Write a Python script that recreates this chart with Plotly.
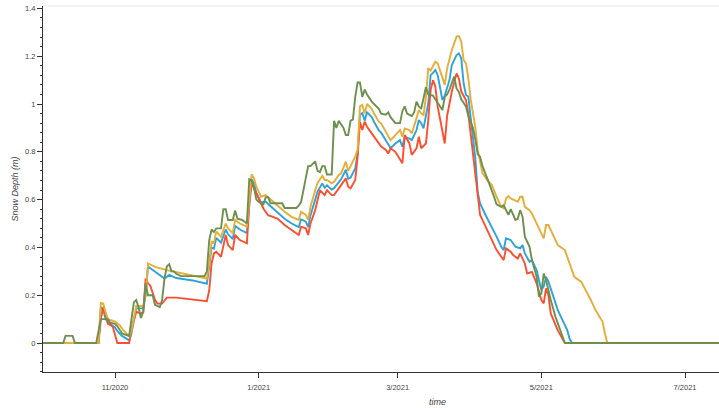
import plotly.graph_objects as go

# ---------------- data ----------------
blue_dates = [
    "2020-10-01", "2020-10-25", "2020-10-26", "2020-10-27", "2020-10-28", "2020-10-30",
    "2020-11-01", "2020-11-02", "2020-11-04", "2020-11-06", "2020-11-07", "2020-11-08",
    "2020-11-10", "2020-11-13", "2020-11-14", "2020-11-15", "2020-11-18", "2020-11-22",
    "2020-11-24", "2020-11-27", "2020-12-04", "2020-12-10", "2020-12-11", "2020-12-12",
    "2020-12-13", "2020-12-14", "2020-12-16", "2020-12-18", "2020-12-19", "2020-12-21",
    "2020-12-22", "2020-12-24", "2020-12-27", "2020-12-28", "2020-12-29", "2020-12-30",
    "2020-12-31", "2021-01-02", "2021-01-04", "2021-01-05", "2021-01-09", "2021-01-12",
    "2021-01-15", "2021-01-18", "2021-01-19", "2021-01-21", "2021-01-22", "2021-01-23",
    "2021-01-25", "2021-01-26", "2021-01-28", "2021-01-29", "2021-01-30", "2021-02-01",
    "2021-02-02", "2021-02-04", "2021-02-05", "2021-02-07", "2021-02-08", "2021-02-09",
    "2021-02-11", "2021-02-12", "2021-02-13", "2021-02-14", "2021-02-15", "2021-02-16",
    "2021-02-18", "2021-02-19", "2021-02-21", "2021-02-22", "2021-02-24", "2021-02-25",
    "2021-02-26", "2021-02-28", "2021-03-02", "2021-03-03", "2021-03-04", "2021-03-06",
    "2021-03-07", "2021-03-09", "2021-03-10", "2021-03-11", "2021-03-12", "2021-03-14",
    "2021-03-15", "2021-03-16", "2021-03-17", "2021-03-18", "2021-03-19", "2021-03-20",
    "2021-03-21", "2021-03-22", "2021-03-23", "2021-03-24", "2021-03-26", "2021-03-27",
    "2021-03-28", "2021-03-29", "2021-03-30", "2021-03-31", "2021-04-01", "2021-04-02",
    "2021-04-03", "2021-04-04", "2021-04-05", "2021-04-07", "2021-04-10", "2021-04-12",
    "2021-04-14", "2021-04-15", "2021-04-16", "2021-04-18", "2021-04-20", "2021-04-22",
    "2021-04-23", "2021-04-24", "2021-04-26", "2021-04-27", "2021-04-29", "2021-04-30",
    "2021-05-01", "2021-05-02", "2021-05-03", "2021-05-04", "2021-05-06", "2021-05-08",
    "2021-05-10", "2021-05-12", "2021-05-13", "2021-05-14", "2021-07-31",
]
blue_depth = [
    0, 0, 0.15, 0.14, 0.10, 0.08,
    0.065, 0.05, 0.03, 0.02, 0.012, 0.04,
    0.145, 0.145, 0.20, 0.32, 0.30, 0.27,
    0.285, 0.272, 0.262, 0.248, 0.32, 0.40,
    0.395, 0.44, 0.42, 0.475, 0.455, 0.435,
    0.49, 0.475, 0.46, 0.56, 0.685, 0.668,
    0.628, 0.588, 0.592, 0.582, 0.545, 0.52,
    0.50, 0.485, 0.518, 0.508, 0.485, 0.535,
    0.60, 0.635, 0.668, 0.65, 0.66, 0.642,
    0.648, 0.675, 0.685, 0.725, 0.688, 0.692,
    0.73, 0.792, 0.955, 0.962, 0.93, 0.965,
    0.945, 0.925, 0.89, 0.88, 0.85, 0.835,
    0.815, 0.835, 0.849, 0.821, 0.863, 0.855,
    0.849, 0.891, 0.933, 0.92, 0.898, 1.003,
    1.121, 1.13, 1.142, 1.121, 1.066, 1.017,
    1.035, 1.07, 1.10, 1.163, 1.205, 1.212,
    1.191, 1.087, 1.038, 1.031, 0.95, 0.87,
    0.77, 0.63, 0.584, 0.542, 0.487, 0.445,
    0.403, 0.389, 0.438, 0.431, 0.403, 0.396,
    0.41, 0.375, 0.34, 0.347, 0.305, 0.257,
    0.222, 0.236, 0.277, 0.257, 0.194, 0.138,
    0.096, 0.054, 0.018, 0, 0,
]

red_dates = [
    "2020-10-01", "2020-10-25", "2020-10-26", "2020-10-27", "2020-10-28", "2020-10-29",
    "2020-10-31", "2020-11-01", "2020-11-02", "2020-11-07", "2020-11-08", "2020-11-10",
    "2020-11-12", "2020-11-13", "2020-11-14", "2020-11-15", "2020-11-16", "2020-11-18",
    "2020-11-19", "2020-11-21", "2020-11-23", "2020-11-27", "2020-12-04", "2020-12-10",
    "2020-12-11", "2020-12-12", "2020-12-13", "2020-12-14", "2020-12-16", "2020-12-18",
    "2020-12-19", "2020-12-21", "2020-12-22", "2020-12-24", "2020-12-27", "2020-12-28",
    "2020-12-29", "2020-12-30", "2021-01-01", "2021-01-03", "2021-01-05", "2021-01-09",
    "2021-01-12", "2021-01-15", "2021-01-18", "2021-01-19", "2021-01-21", "2021-01-22",
    "2021-01-23", "2021-01-25", "2021-01-26", "2021-01-27", "2021-01-29", "2021-01-30",
    "2021-02-01", "2021-02-02", "2021-02-04", "2021-02-05", "2021-02-07", "2021-02-08",
    "2021-02-09", "2021-02-11", "2021-02-12", "2021-02-13", "2021-02-14", "2021-02-15",
    "2021-02-16", "2021-02-18", "2021-02-20", "2021-02-22", "2021-02-24", "2021-02-25",
    "2021-02-26", "2021-02-28", "2021-03-03", "2021-03-04", "2021-03-06", "2021-03-07",
    "2021-03-09", "2021-03-10", "2021-03-11", "2021-03-13", "2021-03-14", "2021-03-15",
    "2021-03-16", "2021-03-17", "2021-03-18", "2021-03-20", "2021-03-21", "2021-03-22",
    "2021-03-24", "2021-03-26", "2021-03-27", "2021-03-28", "2021-03-30", "2021-03-31",
    "2021-04-01", "2021-04-02", "2021-04-03", "2021-04-04", "2021-04-05", "2021-04-06",
    "2021-04-08", "2021-04-10", "2021-04-12", "2021-04-14", "2021-04-15", "2021-04-16",
    "2021-04-18", "2021-04-19", "2021-04-21", "2021-04-22", "2021-04-24", "2021-04-25",
    "2021-04-27", "2021-04-29", "2021-04-30", "2021-05-01", "2021-05-02", "2021-05-03",
    "2021-05-04", "2021-05-05", "2021-05-08", "2021-05-10", "2021-05-11", "2021-07-31",
]
red_depth = [
    0, 0, 0.10, 0.15, 0.12, 0.08,
    0.07, 0.04, 0, 0, 0.06, 0.13,
    0.125, 0.13, 0.27, 0.25, 0.24, 0.18,
    0.165, 0.165, 0.19, 0.19, 0.183, 0.175,
    0.22, 0.333, 0.375, 0.382, 0.361, 0.452,
    0.41, 0.389, 0.452, 0.431, 0.417, 0.584,
    0.668, 0.647, 0.598, 0.563, 0.535, 0.521,
    0.494, 0.473, 0.452, 0.487, 0.48, 0.452,
    0.50, 0.556, 0.598, 0.64, 0.619, 0.64,
    0.619, 0.619, 0.647, 0.661, 0.689, 0.654,
    0.647, 0.682, 0.78, 0.925, 0.891, 0.926,
    0.905, 0.877, 0.849, 0.822, 0.808, 0.793,
    0.815, 0.80, 0.752, 0.87, 0.835, 0.787,
    0.815, 0.863, 0.815, 0.835, 0.933, 1.059,
    1.10, 1.073, 0.989, 0.877, 0.835, 0.95,
    1.052, 1.128, 1.107, 1.052, 1.017, 0.96,
    0.87, 0.80, 0.71, 0.60, 0.536, 0.515,
    0.473, 0.431, 0.389, 0.361, 0.347, 0.396,
    0.382, 0.368, 0.354, 0.375, 0.333, 0.291,
    0.298, 0.25, 0.215, 0.18, 0.166, 0.229,
    0.20, 0.124, 0.053, 0.018, 0, 0,
]

yellow_dates = [
    "2020-10-01", "2020-10-25", "2020-10-26", "2020-10-27", "2020-10-28", "2020-10-29",
    "2020-11-01", "2020-11-03", "2020-11-04", "2020-11-06", "2020-11-07", "2020-11-08",
    "2020-11-10", "2020-11-13", "2020-11-14", "2020-11-15", "2020-11-18", "2020-11-23",
    "2020-11-28", "2020-12-04", "2020-12-10", "2020-12-11", "2020-12-12", "2020-12-13",
    "2020-12-14", "2020-12-16", "2020-12-18", "2020-12-19", "2020-12-21", "2020-12-22",
    "2020-12-24", "2020-12-27", "2020-12-28", "2020-12-29", "2020-12-30", "2020-12-31",
    "2021-01-02", "2021-01-04", "2021-01-05", "2021-01-09", "2021-01-12", "2021-01-15",
    "2021-01-18", "2021-01-19", "2021-01-21", "2021-01-22", "2021-01-23", "2021-01-25",
    "2021-01-26", "2021-01-28", "2021-01-29", "2021-01-30", "2021-02-01", "2021-02-02",
    "2021-02-04", "2021-02-05", "2021-02-07", "2021-02-08", "2021-02-09", "2021-02-11",
    "2021-02-12", "2021-02-13", "2021-02-14", "2021-02-15", "2021-02-16", "2021-02-18",
    "2021-02-19", "2021-02-21", "2021-02-22", "2021-02-24", "2021-02-25", "2021-02-26",
    "2021-02-28", "2021-03-02", "2021-03-03", "2021-03-04", "2021-03-06", "2021-03-07",
    "2021-03-09", "2021-03-10", "2021-03-11", "2021-03-12", "2021-03-13", "2021-03-14",
    "2021-03-15", "2021-03-17", "2021-03-18", "2021-03-19", "2021-03-20", "2021-03-21",
    "2021-03-22", "2021-03-23", "2021-03-24", "2021-03-26", "2021-03-27", "2021-03-28",
    "2021-03-29", "2021-03-30", "2021-03-31", "2021-04-01", "2021-04-03", "2021-04-04",
    "2021-04-05", "2021-04-06", "2021-04-08", "2021-04-10", "2021-04-12", "2021-04-14",
    "2021-04-15", "2021-04-16", "2021-04-17", "2021-04-18", "2021-04-21", "2021-04-22",
    "2021-04-23", "2021-04-24", "2021-04-26", "2021-04-27", "2021-04-30", "2021-05-02",
    "2021-05-03", "2021-05-04", "2021-05-06", "2021-05-08", "2021-05-11", "2021-05-13",
    "2021-05-15", "2021-05-18", "2021-05-20", "2021-05-22", "2021-05-24", "2021-05-27",
    "2021-05-28", "2021-05-29", "2021-07-31",
]
yellow_depth = [
    0, 0, 0.168, 0.165, 0.13, 0.10,
    0.09, 0.075, 0.06, 0.04, 0.028, 0.05,
    0.155, 0.155, 0.20, 0.333, 0.319, 0.305,
    0.294, 0.284, 0.27, 0.333, 0.424, 0.42,
    0.466, 0.445, 0.50, 0.48, 0.459, 0.515,
    0.50, 0.487, 0.584, 0.706, 0.689, 0.654,
    0.612, 0.619, 0.61, 0.573, 0.549, 0.528,
    0.515, 0.549, 0.536, 0.515, 0.57, 0.64,
    0.67, 0.70, 0.682, 0.682, 0.668, 0.675,
    0.703, 0.71, 0.759, 0.72, 0.738, 0.78,
    0.808, 0.99, 0.996, 0.96, 1.0, 0.98,
    0.96, 0.926, 0.919, 0.884, 0.87, 0.849,
    0.87, 0.891, 0.863, 0.898, 0.891, 0.877,
    0.94, 0.975, 0.961, 0.954, 1.031, 1.15,
    1.14, 1.177, 1.17, 1.142, 1.107, 1.08,
    1.149, 1.191, 1.226, 1.282, 1.284, 1.261,
    1.184, 1.17, 1.107, 1.02, 0.90, 0.808,
    0.752, 0.711, 0.682, 0.661, 0.612, 0.57,
    0.563, 0.605, 0.615, 0.605, 0.591, 0.612,
    0.612, 0.57, 0.556, 0.542, 0.48, 0.438,
    0.494, 0.494, 0.452, 0.41, 0.389, 0.333,
    0.277, 0.256, 0.22, 0.18, 0.138, 0.089,
    0.04, 0, 0,
]

green_dates = [
    "2020-10-01", "2020-10-10", "2020-10-11", "2020-10-14", "2020-10-15", "2020-10-24",
    "2020-10-26", "2020-10-29", "2020-10-30", "2020-11-01", "2020-11-02", "2020-11-04",
    "2020-11-07", "2020-11-08", "2020-11-09", "2020-11-10", "2020-11-11", "2020-11-12",
    "2020-11-13", "2020-11-14", "2020-11-15", "2020-11-17", "2020-11-18", "2020-11-20",
    "2020-11-21", "2020-11-22", "2020-11-23", "2020-11-24", "2020-11-25", "2020-11-26",
    "2020-11-27", "2020-11-29", "2020-12-09", "2020-12-10", "2020-12-11", "2020-12-12",
    "2020-12-13", "2020-12-14", "2020-12-16", "2020-12-17", "2020-12-18", "2020-12-19",
    "2020-12-21", "2020-12-22", "2020-12-23", "2020-12-25", "2020-12-27", "2020-12-28",
    "2020-12-29", "2020-12-30", "2020-12-31", "2021-01-01", "2021-01-03", "2021-01-04",
    "2021-01-05", "2021-01-06", "2021-01-11", "2021-01-12", "2021-01-17", "2021-01-18",
    "2021-01-19", "2021-01-20", "2021-01-22", "2021-01-23", "2021-01-25", "2021-01-26",
    "2021-01-27", "2021-01-28", "2021-01-29", "2021-01-30", "2021-02-01", "2021-02-02",
    "2021-02-03", "2021-02-04", "2021-02-06", "2021-02-07", "2021-02-08", "2021-02-09",
    "2021-02-10", "2021-02-11", "2021-02-12", "2021-02-13", "2021-02-14", "2021-02-15",
    "2021-02-16", "2021-02-18", "2021-02-19", "2021-02-21", "2021-02-22", "2021-02-24",
    "2021-02-25", "2021-02-26", "2021-02-28", "2021-03-02", "2021-03-03", "2021-03-04",
    "2021-03-05", "2021-03-07", "2021-03-08", "2021-03-09", "2021-03-10", "2021-03-11",
    "2021-03-13", "2021-03-14", "2021-03-16", "2021-03-17", "2021-03-18", "2021-03-20",
    "2021-03-21", "2021-03-22", "2021-03-23", "2021-03-25", "2021-03-26", "2021-03-27",
    "2021-03-28", "2021-03-30", "2021-03-31", "2021-04-02", "2021-04-03", "2021-04-04",
    "2021-04-05", "2021-04-06", "2021-04-08", "2021-04-10", "2021-04-11", "2021-04-12",
    "2021-04-14", "2021-04-15", "2021-04-16", "2021-04-17", "2021-04-18", "2021-04-20",
    "2021-04-21", "2021-04-22", "2021-04-23", "2021-04-24", "2021-04-26", "2021-04-27",
    "2021-04-29", "2021-04-30", "2021-05-01", "2021-05-02", "2021-05-03", "2021-05-05",
    "2021-05-07", "2021-05-09", "2021-05-11", "2021-07-31",
]
green_depth = [
    0, 0, 0.03, 0.03, 0, 0,
    0.10, 0.10, 0.085, 0.08, 0.07, 0.04,
    0.03, 0.10, 0.17, 0.18, 0.15, 0.105,
    0.13, 0.25, 0.20, 0.20, 0.16, 0.15,
    0.18, 0.27, 0.32, 0.33, 0.30, 0.30,
    0.29, 0.28, 0.28, 0.30, 0.43, 0.475,
    0.465, 0.48, 0.48, 0.56, 0.56, 0.515,
    0.515, 0.555, 0.52, 0.515, 0.50, 0.685,
    0.68, 0.65, 0.60, 0.59, 0.58, 0.61,
    0.61, 0.585, 0.585, 0.565, 0.565, 0.575,
    0.59, 0.64, 0.74, 0.74, 0.76, 0.72,
    0.715, 0.74, 0.74, 0.705, 0.705, 0.93,
    0.90, 0.93, 0.90, 0.87, 0.87, 0.93,
    0.935, 1.03, 1.09, 1.09, 1.03, 1.06,
    1.04, 1.01, 1.0, 0.98, 0.96, 0.955,
    0.965, 0.945, 0.92, 0.92, 0.97, 0.99,
    0.96, 0.95, 0.965, 1.01, 0.99, 0.98,
    1.07, 1.04, 1.035, 1.02, 1.0, 0.975,
    1.03, 1.04, 1.06, 1.115, 1.065, 1.05,
    1.02, 0.99, 0.95, 0.90, 0.85, 0.79,
    0.78, 0.74, 0.69, 0.64, 0.61, 0.58,
    0.57, 0.577, 0.556, 0.536, 0.56, 0.515,
    0.52, 0.556, 0.53, 0.445, 0.403, 0.347,
    0.277, 0.194, 0.208, 0.291, 0.264, 0.18,
    0.11, 0.053, 0, 0,
]

x_tick_dates = ["2020-11-01", "2021-01-01", "2021-03-01", "2021-05-01", "2021-07-01"]
x_tick_labels = ["11/2020", "1/2021", "3/2021", "5/2021", "7/2021"]

series = [
    ("series 1", blue_dates, blue_depth, "#30a2da"),
    ("series 2", red_dates, red_depth, "#fc4f30"),
    ("series 3", yellow_dates, yellow_depth, "#e5ae38"),
    ("series 4", green_dates, green_depth, "#6d904f"),
]

# ---------------- figure ----------------
fig = go.Figure()
for name, d, v, c in series:
    fig.add_trace(go.Scatter(x=d, y=v, mode="lines", name=name,
                             line=dict(color=c, width=1.9), showlegend=False))

tick_font = dict(family="Liberation Sans, Arial, sans-serif", size=7.5, color="#444444")
title_font = dict(family="Liberation Sans, Arial, sans-serif", size=9, color="#444444")

fig.update_layout(
    width=719, height=408,
    margin=dict(l=43, r=0, t=6, b=36),
    paper_bgcolor="white", plot_bgcolor="white",
    showlegend=False,
    xaxis=dict(
        type="date",
        range=["2020-10-01 10:20", "2021-07-15 10:20"],
        tickmode="array", tickvals=x_tick_dates, ticktext=x_tick_labels,
        ticks="outside", ticklen=5, tickwidth=1, tickcolor="#333333",
        ticklabelstandoff=3,
        showline=True, linecolor="#333333", linewidth=1,
        showgrid=False, zeroline=False,
        tickfont=tick_font,
    ),
    yaxis=dict(
        range=[-0.121, 1.41],
        tick0=0, dtick=0.2,
        ticks="outside", ticklen=5, tickwidth=1, tickcolor="#333333",
        minor=dict(dtick=0.04, ticks="outside", ticklen=2.5, tickcolor="#333333", tickwidth=1),
        showline=True, linecolor="#333333", linewidth=1,
        showgrid=False, zeroline=False,
        tickfont=tick_font,
    ),
    shapes=[dict(type="line", xref="paper", yref="paper", x0=0, x1=1, y0=1, y1=1,
                 line=dict(color="#e5e5e5", width=1))],
    annotations=[
        dict(text="<i>time</i>", xref="paper", yref="paper", x=(437 - 43) / 676, y=(372 - 402) / 366,
             showarrow=False, font=title_font, xanchor="center", yanchor="middle"),
        dict(text="<i>Snow Depth (m)</i>", xref="paper", yref="paper", x=(14.5 - 43) / 676, y=0.5,
             showarrow=False, font=title_font, textangle=-90, xanchor="center", yanchor="middle"),
    ],
)

fig.write_html(
    "out.html",
    config={"displayModeBar": False},
    post_script="document.body.style.margin='0';document.body.style.overflow='hidden';",
)
